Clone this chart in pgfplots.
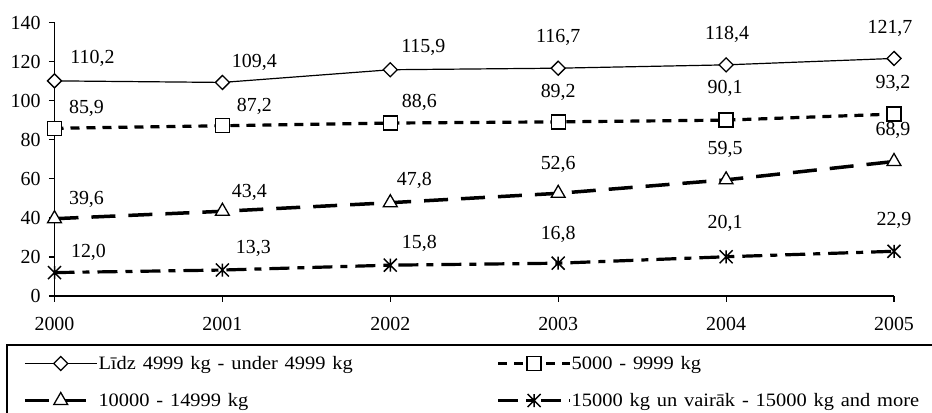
\documentclass[border=0pt]{standalone}
\usepackage{fontspec}
\setmainfont{Liberation Serif}
\usepackage{graphicx}
\usepackage{pgfplots}
\usepackage{pgfplotstable}
\pgfplotsset{compat=1.18}

% open diamond and Excel-style star (X with a vertical bar)
\pgfdeclareplotmark{ediamond}{%
  \pgfpathmoveto{\pgfqpoint{0pt}{\pgfplotmarksize}}%
  \pgfpathlineto{\pgfqpoint{\pgfplotmarksize}{0pt}}%
  \pgfpathlineto{\pgfqpoint{0pt}{-\pgfplotmarksize}}%
  \pgfpathlineto{\pgfqpoint{-\pgfplotmarksize}{0pt}}%
  \pgfpathclose\pgfusepathqfillstroke}
\pgfdeclareplotmark{xstar}{%
  \pgfpathmoveto{\pgfqpoint{-\pgfplotmarksize}{-\pgfplotmarksize}}%
  \pgfpathlineto{\pgfqpoint{\pgfplotmarksize}{\pgfplotmarksize}}%
  \pgfpathmoveto{\pgfqpoint{-\pgfplotmarksize}{\pgfplotmarksize}}%
  \pgfpathlineto{\pgfqpoint{\pgfplotmarksize}{-\pgfplotmarksize}}%
  \pgfpathmoveto{\pgfqpoint{0pt}{-\pgfplotmarksize}}%
  \pgfpathlineto{\pgfqpoint{0pt}{\pgfplotmarksize}}%
  \pgfusepathqstroke}

% x = year index (0 = 2000), y = value, dx/dy = label offset
\pgfplotstableread{
x y dx dy
0 110.2 38 24
1 109.4 32 22
2 115.9 33 24
3 116.7 0 32
4 118.4 1 32
5 121.7 -4 32
}\tabA
\pgfplotstableread{
x y dx dy
0 85.9 32 22
1 87.2 32 21
2 88.6 29 22
3 89.2 0 31
4 90.1 -1 33
5 93.2 -1 32
}\tabB
\pgfplotstableread{
x y dx dy
0 39.6 32 21
1 43.4 27 21
2 47.8 24 24
3 52.6 0 31
4 59.5 -1 32
5 68.9 -1 33
}\tabC
\pgfplotstableread{
x y dx dy
0 12.0 34 22
1 13.3 31 23
2 15.8 29 23
3 16.8 0 31
4 20.1 -1 35
5 22.9 0 33
}\tabD

\newcommand{\lgd}[1]{\scalebox{1.08}[1]{#1}}

\begin{document}
\begin{tikzpicture}
\begin{axis}[
  at={(54.5bp,117bp)}, anchor=south west,
  scale only axis, width=839.5bp, height=273.3bp,
  xmin=0, xmax=5, ymin=0, ymax=140,
  axis lines=left, axis line style={-, line width=1.2bp},
  xtick={0,1,2,3,4,5},
  xticklabels={2000,2001,2002,2003,2004,2005},
  ytick={0,20,40,60,80,100,120,140},
  tick align=outside, major tick length=5.5bp,
  tick style={line width=1.2bp, black},
  ticklabel style={font=\fontsize{20}{24}\selectfont},
  xticklabel style={yshift=-12bp},
  yticklabel style={xshift=-5bp},
  /pgf/number format/assume math mode=true,
  clip=false,
  legend columns=2, legend cell align=left,
  legend style={at={(-0.05658,-0.17929)}, anchor=north west,
    draw=black, line width=1.2bp, inner sep=0pt, outer sep=0pt,
    row sep=0pt, column sep=0pt,
    font=\fontsize{19}{22}\selectfont,
    nodes={inner sep=0pt, text width=382bp, minimum height=37bp, align=left}},
  legend image code/.code={
    \path (0bp,0bp) (88bp,0bp);
    \draw[mark repeat=2, mark phase=2, #1]
      plot coordinates {(16bp,0bp) (52bp,0bp) (88bp,0bp)};
  },
  point meta=y,
  visualization depends on={\thisrow{dx} \as \ldx},
  visualization depends on={\thisrow{dy} \as \ldy},
  nodes near coords={\pgfmathprintnumber[fixed,fixed zerofill,precision=1,use comma,assume math mode=true]{\pgfplotspointmeta}},
  every node near coord/.append style={anchor=center, inner sep=0pt,
    xshift=\ldx*1bp, yshift=\ldy*1bp,
    font=\fontsize{20}{24}\selectfont, text height=13.6bp, text depth=0pt,
    solid, black},
]
\addplot[black, line width=1.2bp, mark=ediamond, mark size=7bp,
  mark options={solid, fill=white, line width=1.3bp}]
  table[x=x, y=y] {\tabA};
\addlegendentry{\lgd{Līdz 4999 kg - under 4999 kg}}

\addplot[black, line width=3.2bp, dash pattern=on 9bp off 7bp,
  mark=square*, mark size=7bp,
  mark options={solid, fill=white, draw=black, line width=1.3bp}]
  table[x=x, y=y] {\tabB};
\addlegendentry{\lgd{5000 - 9999 kg}}

\addplot[black, line width=3.5bp, dash pattern=on 24bp off 13bp,
  mark=triangle*, mark size=8bp,
  mark options={solid, fill=white, draw=black, line width=1.3bp}]
  table[x=x, y=y] {\tabC};
\addlegendentry{\lgd{10000 - 14999 kg}}

\addplot[black, line width=3.2bp, dash pattern=on 20bp off 8bp on 7bp off 8bp,
  mark=xstar, mark size=6.5bp,
  mark options={solid, line width=1.5bp}]
  table[x=x, y=y] {\tabD};
\addlegendentry{\lgd{15000 kg un vairāk - 15000 kg and more}}
\end{axis}
\pgfresetboundingbox
\useasboundingbox (0,0) rectangle (932bp,413bp);
\end{tikzpicture}
\end{document}
